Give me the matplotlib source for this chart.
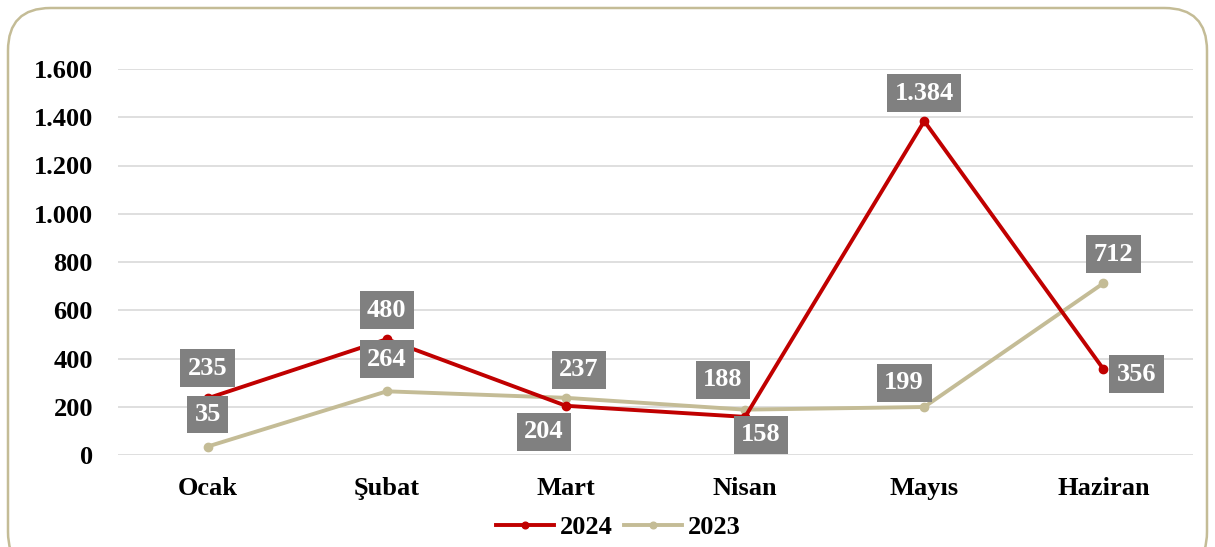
import matplotlib.pyplot as plt
from matplotlib.patches import FancyBboxPatch
from matplotlib.ticker import FuncFormatter

months = ['Ocak', 'Şubat', 'Mart', 'Nisan', 'Mayıs', 'Haziran']
values_2024 = [235, 480, 204, 158, 1384, 356]
values_2023 = [35, 264, 237, 188, 199, 712]

# label offsets in pixels (dx, dy), dy positive = up
off_2024 = [(0, 30), (0, 29), (-22, -26), (16, -18), (0, 28), (33, -5)]
off_2023 = [(0, 32), (0, 32), (13, 28), (-22, 30), (-20, 24), (10, 29)]

red = '#c00000'
beige = '#c4bc96'

plt.rcParams['font.family'] = ['Liberation Serif', 'DejaVu Serif']
plt.rcParams['font.weight'] = 'bold'

fig = plt.figure(figsize=(12.15, 5.47), dpi=100)
ax = fig.add_axes([118/1215, 1-455/547, 1075/1215, (455-69)/547])

border = FancyBboxPatch((8/1215, -0.05), 1199/1215, 1-8/547+0.05,
                        boxstyle='round,pad=0,rounding_size=0.035',
                        transform=fig.transFigure, facecolor='none',
                        edgecolor=beige, linewidth=1.8, mutation_aspect=1215/547)
fig.patches.append(border)

x = list(range(len(months)))
ax.plot(x, values_2024, color=red, lw=2.8, marker='o', ms=6, label='2024', zorder=3)
ax.plot(x, values_2023, color=beige, lw=2.8, marker='o', ms=6, label='2023', zorder=2)

def fmt(v):
    return f'{int(v):,}'.replace(',', '.')

for vals, offs in ((values_2024, off_2024), (values_2023, off_2023)):
    for i, v in enumerate(vals):
        dx, dy = offs[i]
        ax.annotate(fmt(v), (i, v), xytext=(dx*0.72, dy*0.72), textcoords='offset points',
                    ha='center', va='center', color='white', fontsize=19, fontweight='bold',
                    bbox=dict(boxstyle='square,pad=0.28', fc='#808080', ec='none'), zorder=5)

ax.set_xlim(-0.5, 5.5)
ax.set_ylim(0, 1600)
ax.set_yticks(range(0, 1601, 200))
ax.yaxis.set_major_formatter(FuncFormatter(lambda v, p: fmt(v)))
ax.set_xticks(x)
ax.set_xticklabels(months)
ax.tick_params(axis='both', length=0, labelsize=19)
ax.tick_params(axis='y', pad=18)
ax.tick_params(axis='x', pad=16)
ax.grid(axis='y', color='#d9d9d9', lw=1.2)
ax.set_axisbelow(True)
for s in ax.spines.values():
    s.set_visible(False)

fig.legend(loc='center', bbox_to_anchor=(0.509, 1-527/547), ncol=2, frameon=False,
           fontsize=19, handlelength=2.2, columnspacing=0.45, handletextpad=0.2,
           markerscale=0.8)

fig.savefig('out.png', dpi=100)
